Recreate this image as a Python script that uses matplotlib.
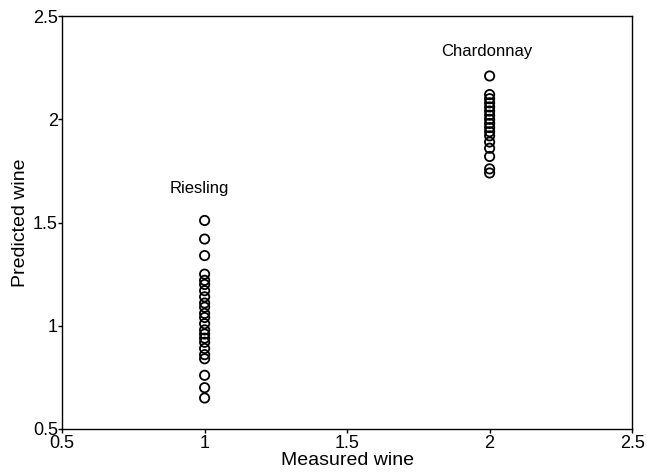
import matplotlib
matplotlib.use("Agg")
import matplotlib.pyplot as plt

plt.rcParams['font.family'] = ['Liberation Sans', 'DejaVu Sans']

# Predicted class values for each measured wine group
riesling_measured = 1
riesling_pred = [1.51, 1.42, 1.34, 1.25, 1.22, 1.20, 1.17, 1.14, 1.11, 1.09,
                 1.06, 1.04, 1.01, 0.98, 0.96, 0.94, 0.92, 0.89, 0.86, 0.84,
                 0.76, 0.70, 0.65]
chardonnay_measured = 2
chardonnay_pred = [2.21, 2.12, 2.10, 2.08, 2.06, 2.04, 2.02, 2.00, 1.98, 1.96,
                   1.94, 1.92, 1.89, 1.86, 1.82, 1.76, 1.74]

group_labels = ["Riesling", "Chardonnay"]
label_pos = [(0.98, 1.665), (1.99, 2.33)]

x_ticks = [0.5, 1, 1.5, 2, 2.5]
y_ticks = [0.5, 1, 1.5, 2, 2.5]
tick_text = ["0.5", "1", "1.5", "2", "2.5"]

fig = plt.figure(figsize=(6.47, 4.74), dpi=100)
ax = fig.add_axes([0.096, 0.095, 0.881, 0.871])

for xm, yp in [(riesling_measured, riesling_pred), (chardonnay_measured, chardonnay_pred)]:
    ax.scatter([xm] * len(yp), yp, s=45, facecolors='none', edgecolors='black',
               linewidths=1.3, zorder=3)

for name, (lx, ly) in zip(group_labels, label_pos):
    ax.text(lx, ly, name, ha='center', va='center', fontsize=12)

ax.set_xlim(0.5, 2.5)
ax.set_ylim(0.5, 2.5)
ax.set_xticks(x_ticks)
ax.set_xticklabels(tick_text)
ax.set_yticks(y_ticks)
ax.set_yticklabels(tick_text)
ax.tick_params(direction='out', length=3, width=1, labelsize=13, pad=1)
ax.tick_params(axis='y', pad=0)
for sp in ax.spines.values():
    sp.set_linewidth(1.0)

ax.set_xlabel("Measured wine", fontsize=14, labelpad=0)
ax.set_ylabel("Predicted wine", fontsize=14, labelpad=3)

fig.savefig("out.png", dpi=100)
